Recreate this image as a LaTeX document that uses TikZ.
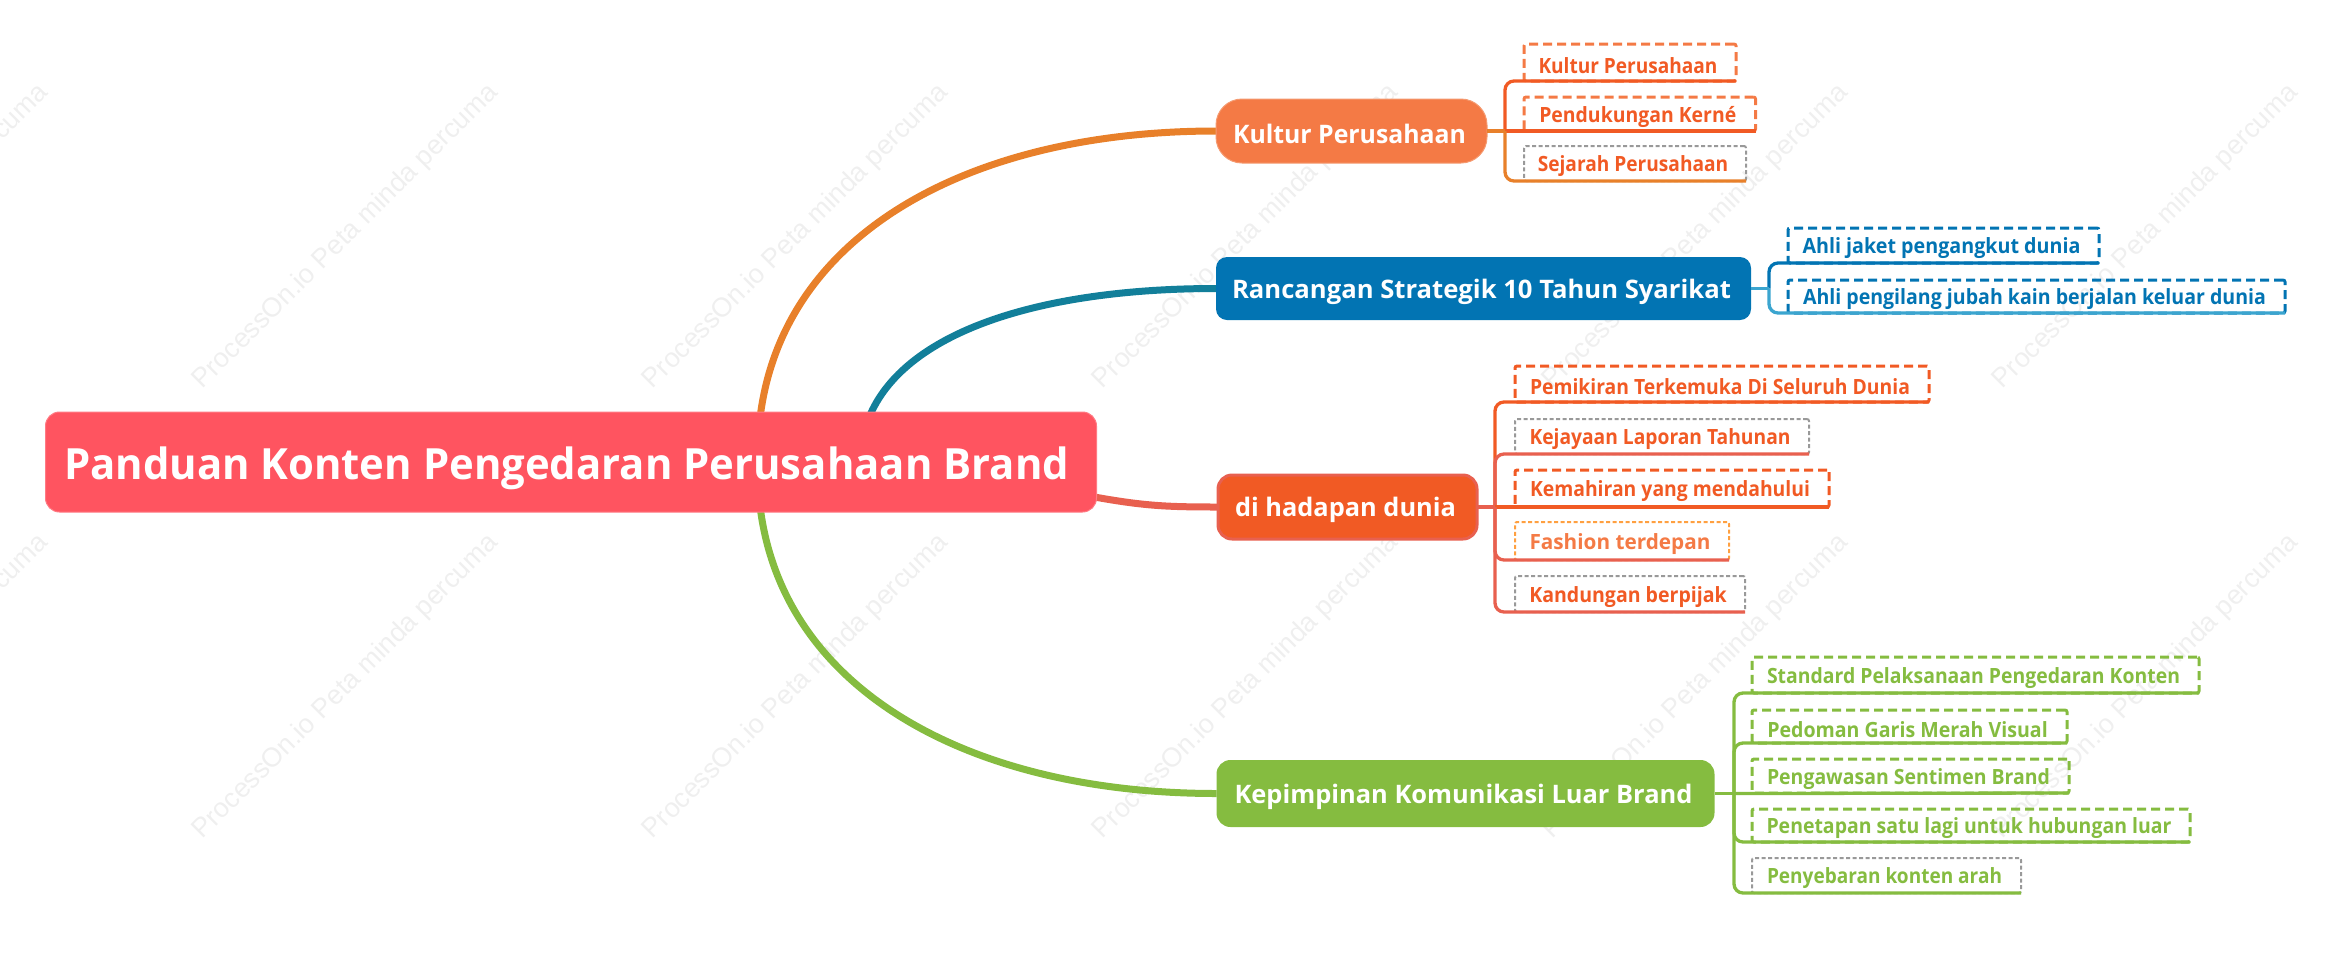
\documentclass[tikz,border=0pt]{standalone}
\usepackage{fontspec}
\usepackage{graphicx}
\usetikzlibrary{calc,backgrounds}
\setmainfont{Open Sans}
\newfontfamily\wmfont{Liberation Sans}
\newsavebox\fitbox
\newcommand\fdx{2pt}
\newcommand\fdy{3pt}
\newcommand\fitx[2]{\sbox\fitbox{#2}\pgfmathsetmacro\fitr{#1pt/\the\wd\fitbox}\hspace*{-2\dimexpr\fdx\relax}\raisebox{-\fdy}[\height][\depth]{\scalebox{\fitr}[1]{\usebox\fitbox}}}
% style, name, x1, y1, x2, y2, text width, text
\newcommand\bx[8]{\node[#1,minimum width={(#5-#3)*1pt},minimum height={(#6-#4)*1pt}] (#2) at ({(#3+#5)/2},{(#4+#6)/2}) {\fitx{#7}{#8}};}
\definecolor{corange}{HTML}{E8802A}
\definecolor{cteal}{HTML}{127F9A}
\definecolor{cgreen}{HTML}{85BC40}
\definecolor{cred}{HTML}{E8604F}
\definecolor{kfill}{HTML}{F47A45}
\definecolor{kedge}{HTML}{F59A70}
\definecolor{bfill}{HTML}{0274B3}
\definecolor{bline}{HTML}{3BA5CF}
\definecolor{dfill}{HTML}{F15A24}
\definecolor{rootred}{HTML}{FF5460}
\definecolor{rootedge}{HTML}{FF7B84}
\definecolor{fashion}{HTML}{FFA040}
\definecolor{wm}{HTML}{EFEFEF}
\tikzset{
  anynode/.style={inner sep=0pt,outer sep=0pt,align=center},
  rootnode/.style={anynode,fill=rootred,draw=rootedge,line width=1pt,rounded corners=14pt,text=white,font=\renewcommand\fdx{4.5pt}\renewcommand\fdy{6pt}\fontsize{43}{50}\selectfont\bfseries},
  mainnode/.style={anynode,text=white,font=\fontsize{25.5}{30}\selectfont\bfseries},
  subnode/.style={anynode,font=\fontsize{21}{25}\selectfont\bfseries,rounded corners=2pt},
  dashthick/.style={subnode,line width=3pt,dash pattern=on 9pt off 5pt},
  dashgray/.style={subnode,draw=black!40,line width=2pt,dash pattern=on 4pt off 2.5pt},
  curve/.style={line width=7pt},
  branch/.style={line width=3.3pt,rounded corners=9pt},
  watermark/.style={anynode,text=wm,rotate=45,font=\wmfont\fontsize{27}{32}\selectfont},
}
\begin{document}
\begin{tikzpicture}[x=1pt,y=-1pt]
\useasboundingbox (0,0) rectangle (2331,954);

% main nodes
\bx{rootnode}{root}{45.5}{412}{1096.5}{512}{1005}{Panduan Konten Pengedaran Perusahaan Brand}
\bx{mainnode,fill=kfill,draw=kedge,line width=1pt,rounded corners=26pt}{kultur}{1216}{99}{1487}{163}{233}{Kultur Perusahaan}
\bx{mainnode,fill=bfill,rounded corners=11pt}{rancang}{1216}{257}{1751}{320}{499}{Rancangan Strategik 10 Tahun Syarikat}
\bx{mainnode,fill=dfill,draw=cred,line width=3pt,rounded corners=14pt}{hadap}{1218}{475}{1477}{539}{221}{di hadapan dunia}
\bx{mainnode,fill=cgreen,rounded corners=14pt}{pimpin}{1216.5}{760}{1714.5}{827}{458}{Kepimpinan Komunikasi Luar Brand}

% sub nodes
\bx{dashthick,draw=kfill,text=dfill}{ka}{1524}{44}{1736}{81}{179}{Kultur Perusahaan}
\bx{dashthick,draw=kfill,text=dfill}{kb}{1524}{97}{1755.5}{131}{197}{Pendukungan Kerné}
\bx{dashgray,text=dfill}{kc}{1524}{146}{1746}{181}{190.5}{Sejarah Perusahaan}

\bx{dashthick,draw=bfill,text=bfill}{ra}{1788}{228}{2099}{263}{278}{Ahli jaket pengangkut dunia}
\bx{dashthick,draw=bfill,text=bfill}{rb}{1788}{280}{2285}{313}{463}{Ahli pengilang jubah kain berjalan keluar dunia}

\bx{dashthick,draw=dfill,text=dfill}{ha}{1515}{366}{1929}{402}{380}{Pemikiran Terkemuka Di Seluruh Dunia}
\bx{dashgray,text=dfill}{hb}{1515}{419}{1809}{454}{261}{Kejayaan Laporan Tahunan}
\bx{dashthick,draw=dfill,text=dfill}{hc}{1515}{470}{1829}{507}{280}{Kemahiran yang mendahului}
\bx{subnode,draw=fashion,line width=2pt,dash pattern=on 4pt off 2.5pt,text=kfill}{hd}{1515}{522}{1729}{560}{181}{Fashion terdepan}
\bx{dashgray,text=dfill}{he}{1515}{576}{1745}{612}{197.5}{Kandungan berpijak}

\bx{dashthick,draw=cgreen,text=cgreen}{pa}{1752}{657}{2199}{693}{413}{Standard Pelaksanaan Pengedaran Konten}
\bx{dashthick,draw=cgreen,text=cgreen}{pb}{1752}{710}{2067}{743}{280.5}{Pedoman Garis Merah Visual}
\bx{dashthick,draw=cgreen,text=cgreen}{pc}{1752}{759}{2069}{793}{283}{Pengawasan Sentimen Brand}
\bx{dashthick,draw=cgreen,text=cgreen}{pd}{1752}{809}{2190}{842}{405}{Penetapan satu lagi untuk hubungan luar}
\bx{dashgray,text=cgreen}{pe}{1752}{858}{2021}{893}{235}{Penyebaran konten arah}

% branch points
\coordinate (kbr) at ($(kultur.east)+(18,0)$);
\coordinate (rbr) at ($(rancang.east)+(18,0)$);
\coordinate (hbr) at ($(hadap.east)+(18,0)$);
\coordinate (pbr) at ($(pimpin.east)+(19.5,0)$);
\coordinate (rootA) at ($(root.north west)+(715,2)$);
\coordinate (rootB) at ($(root.north west)+(825,2)$);
\coordinate (rootC) at ($(root.south west)+(715,-2)$);
\coordinate (rootD) at ($(root.south east)+(-2,-15)$);

% watermark and thick curves under the nodes
\begin{pgfonlayer}{background}
  \foreach \r/\yy in {a/237,b/687}{
    \foreach \c/\xx in {a/-104,b/346,c/796,d/1246,e/1696,f/2146}{
      \node[watermark] (wm\r\c) at (\xx,\yy) {ProcessOn.io Peta minda percuma};
    }
  }
  \draw[curve,corange] (rootA) .. controls +(25,-185) and +(-240,0) .. (kultur.west);
  \draw[curve,cteal] (rootB) .. controls +(38,-85) and +(-170,0) .. (rancang.west);
  \draw[curve,cgreen] (rootC) .. controls +(25,185) and +(-240,0) .. (pimpin.west);
  \draw[curve,cred] (rootD) .. controls +(50,9) and +(-50,0) .. (hadap.west);
\end{pgfonlayer}

% branches
\draw[branch,dfill] (kbr) -- (kbr |- ka.south) -- (ka.south east);
\draw[branch,dfill] (kbr) -- (kb.south east);
\draw[branch,corange] (kbr) -- (kbr |- kc.south) -- (kc.south east);
\draw[branch,corange] (kultur.east) -- (kbr);

\draw[branch,bfill] (rbr) -- (rbr |- ra.south) -- (ra.south east);
\draw[branch,bline] (rbr) -- (rbr |- rb.south) -- (rb.south east);
\draw[branch,bline] (rancang.east) -- (rbr);

\draw[branch,dfill] (hbr) -- (hbr |- ha.south) -- (ha.south east);
\draw[branch,cred] (hbr) -- (hbr |- hb.south) -- (hb.south east);
\draw[branch,dfill] (hbr) -- (hc.south east);
\draw[branch,cred] (hbr) -- (hbr |- hd.south) -- (hd.south east);
\draw[branch,cred] (hbr) -- (hbr |- he.south) -- (he.south east);
\draw[branch,cred] (hadap.east) -- (hbr);

\draw[branch,cgreen] (pbr) -- (pbr |- pa.south) -- (pa.south east);
\draw[branch,cgreen] (pbr) -- (pbr |- pb.south) -- (pb.south east);
\draw[branch,cgreen] (pbr) -- (pc.south east);
\draw[branch,cgreen] (pbr) -- (pbr |- pd.south) -- (pd.south east);
\draw[branch,cgreen] (pbr) -- (pbr |- pe.south) -- (pe.south east);
\draw[branch,cgreen] (pimpin.east) -- (pbr);
\end{tikzpicture}
\end{document}
